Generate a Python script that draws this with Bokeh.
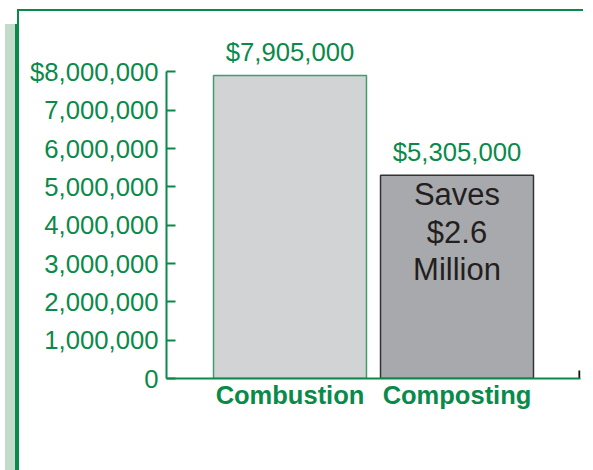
from bokeh.plotting import figure
from bokeh.models import (ColumnDataSource, FactorRange, Range1d, FixedTicker,
                          LabelSet)
from bokeh.core.properties import value
from bokeh.embed import file_html
from bokeh.resources import INLINE

# ---- data ----
categories = ["Combustion", "Composting"]
costs = [7905000, 5305000]
value_labels = ["$7,905,000", "$5,305,000"]
bar_colors = ["#d1d3d4", "#a7a9ac"]
bar_outlines = ["#3f9e6b", "#333333"]
tick_values = [0, 1000000, 2000000, 3000000, 4000000, 5000000, 6000000, 7000000, 8000000]
tick_labels = ["0", "1,000,000", "2,000,000", "3,000,000", "4,000,000",
               "5,000,000", "6,000,000", "7,000,000", "$8,000,000"]
savings_category = ["Composting"]
savings_value = [5305000]
savings_lines = ["Saves", "$2.6", "Million"]

GREEN = "#0a8a4a"
FONT = "Liberation Sans"

src = ColumnDataSource(dict(cat=categories, cost=costs, lab=value_labels,
                            fill=bar_colors, line=bar_outlines))

p = figure(x_range=FactorRange(factors=categories, range_padding=0.2395),
           y_range=Range1d(0, 9000000),
           width=566, height=450, output_backend="svg", toolbar_location=None,
           min_border_left=147, min_border_right=5, min_border_top=22,
           min_border_bottom=83)

p.vbar(x="cat", top="cost", width=0.916, source=src, fill_color="fill",
       line_color="line", line_width=1.5)

# value labels above bars
p.add_layout(LabelSet(x="cat", y="cost", text="lab", source=src, y_offset=14,
                      text_align="center", text_baseline="alphabetic",
                      text_color=GREEN, text_font=value(FONT), text_font_size="25.7px"))

# savings note inside bar, one centred line each
for i, line in enumerate(savings_lines):
    s = ColumnDataSource(dict(cat=savings_category, v=savings_value, t=[line]))
    p.add_layout(LabelSet(x="cat", y="v", text="t", source=s,
                          y_offset=-(30 + 37.5 * i),
                          text_align="center", text_baseline="alphabetic",
                          text_color="#231f20", text_font=value(FONT),
                          text_font_size="31px"))

# end tick on x axis
p.segment(x0=[("Composting", 0.733)], x1=[("Composting", 0.733)],
          y0=[0], y1=[210000], line_color="#111111", line_width=2)

p.grid.visible = False
p.outline_line_color = None
p.background_fill_color = "white"
p.border_fill_color = "white"

ya = p.yaxis[0]
ya.ticker = FixedTicker(ticks=tick_values)
ya.bounds = (0, 8000000)
ya.major_label_overrides = {v: s for v, s in zip(tick_values, tick_labels)}
ya.axis_line_color = GREEN
ya.axis_line_width = 2
ya.major_tick_line_color = GREEN
ya.major_tick_line_width = 2
ya.major_tick_in = 9
ya.major_tick_out = 0
ya.minor_tick_line_color = None
ya.major_label_standoff = 8
ya.major_label_text_color = GREEN
ya.major_label_text_font = FONT
ya.major_label_text_font_size = "25.7px"

xa = p.xaxis[0]
xa.axis_line_color = GREEN
xa.axis_line_width = 2
xa.major_tick_line_color = None
xa.minor_tick_line_color = None
xa.major_label_standoff = -4
xa.major_label_text_color = GREEN
xa.major_label_text_font = FONT
xa.major_label_text_font_style = "bold"
xa.major_label_text_font_size = "25.5px"

p.styles = {
    "margin-left": "17px",
    "margin-top": "9px",
    "border-top": "2px solid " + GREEN,
    "border-left": "2px solid " + GREEN,
    "box-shadow": ("2px 15px 0 0 white, -2px 15px 0 0 " + GREEN +
                   ", -12px 15px 0 0 #c2dcc9"),
}

open("out.html", "w").write(file_html(p, INLINE))
